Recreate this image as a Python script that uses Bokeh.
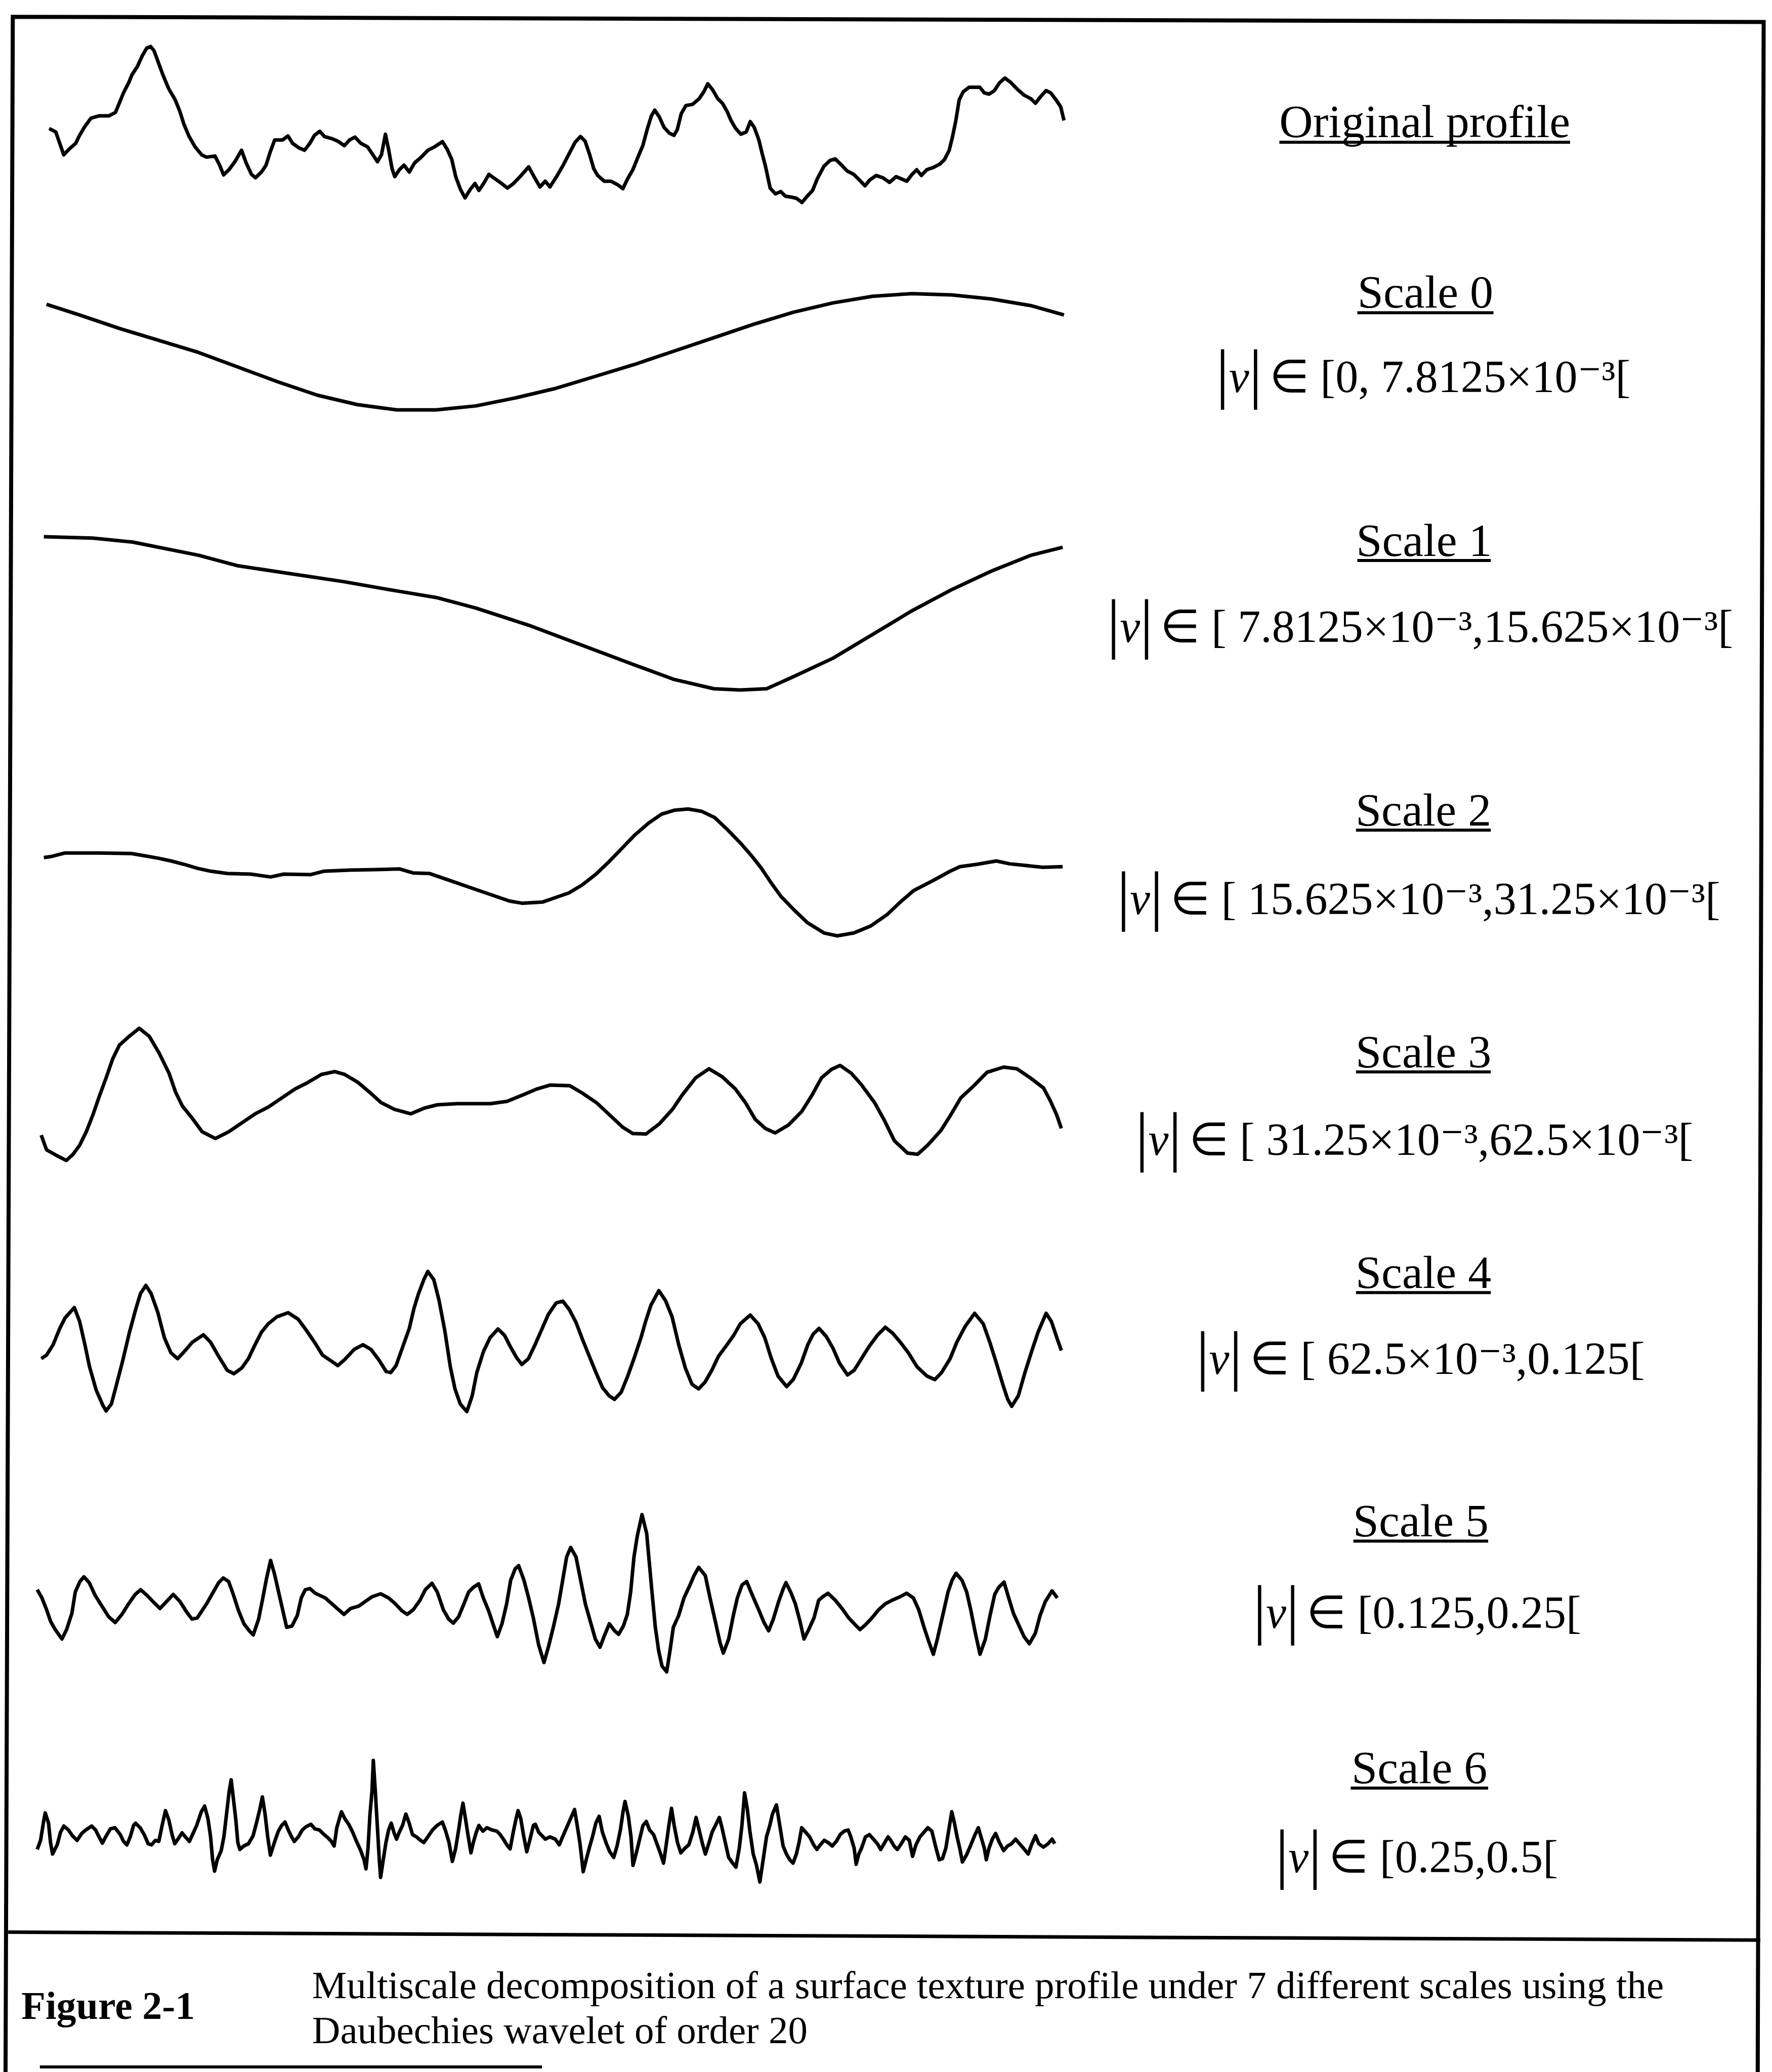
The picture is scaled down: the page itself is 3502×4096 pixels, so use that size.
from bokeh.plotting import figure
from bokeh.models import Range1d
from bokeh.core.properties import value
from bokeh.embed import file_html
from bokeh.resources import INLINE

# ---------------- values ----------------
# horizontal position (arbitrary units) and depth below top (arbitrary units, larger = lower)
profile_x = [25,35,47,55,65,70,78,88,100,115, 125,130,137,145,150,158,165,172,178,183,
             190,197,205,215,222,228,236,245,255,262, 275,282,288,296,305,315,322,330,336,345,
             352,358,365,377,385,392,402,410,418,425, 433,440,452,460,470,478,486,495,505,512,
             520,526,532,537,542,546,553,560,568,576, 586,596,606,618,625,632,638,645,652,660,
             667,673,680,688,695,705,716,725,735,748, 756,765,773,780,790,800,808,818,826,833,
             840,846,852,862,872,882,890,897,905,912, 920,927,933,938,945,952,960,967,972,978,
             985,995,1005,1012,1018,1025,1033,1040,1047,1053, 1060,1068,1076,1082,1088,1095,1100,1105,1112,1120,
             1128,1135,1145,1152,1160,1168,1176,1183,1193,1202, 1210,1218,1228,1238,1245,1255,1262,1272,1282,1292,
             1302,1310,1318,1326,1333,1340,1348,1358,1368,1375, 1382,1387,1392,1397,1403,1412,1428,1435,1442,1450,
             1458,1466,1475,1485,1495,1505,1512,1520,1528,1535, 1543,1550,1555]
profile_d = [830,860,1060,1010,960,900,820,740,720,720, 690,620,520,430,360,290,200,130,115,150,
             260,370,480,580,680,790,900,990,1060,1080, 1070,1150,1235,1190,1120,1020,1130,1230,1260,1210,
             1150,1040,930,930,895,960,1000,1020,960,890, 855,900,920,940,980,930,905,960,990,1050,
             1120,1060,880,1020,1180,1250,1190,1150,1210,1130, 1080,1020,990,945,1010,1100,1250,1360,1435,1360,
             1310,1370,1310,1230,1260,1300,1350,1310,1250,1165, 1250,1340,1290,1340,1250,1150,1060,950,900,940,
             1060,1180,1240,1290,1290,1320,1355,1270,1190,1090, 980,830,720,670,730,820,870,890,840,700,
             630,620,570,510,440,490,570,610,680,760, 830,880,860,770,820,930,1050,1160,1350,1400,
             1380,1420,1430,1440,1475,1420,1370,1270,1160,1110, 1095,1140,1200,1230,1270,1330,1280,1240,1260,1300,
             1250,1270,1290,1230,1190,1240,1190,1170,1140,1100, 1020,900,760,580,510,470,470,520,530,500,
             430,390,430,490,540,570,610,550,500,520, 580,640,760]

scale0_x = [35,60,90,120,150,180,210,240,270,300,330,360,390,420,450,480,510,540,570,600,630,660,690,720,750,780,805]
scale0_d = [230,238,248,257,266,277,288,298,305,309,309,306,300,293,284,275,265,255,245,236,229,224,222,223,226,231,238]

scale1_x = [33,70,100,150,180,220,260,300,330,360,400,440,480,510,540,560,580,600,630,660,690,720,750,780,804]
scale1_d = [406,407,410,420,428,434,440,447,452,460,473,488,503,514,521,522,521,512,498,480,462,446,432,420,414]

scale2_x = [18,30,50,100,150,170,190,210,230,250, 270,295,330,360,380,420,440,480,520,555,
            575,600,620,640,660,680,700,720,740,770, 790,810,830,850,870,890,910,930,950,970,
            990,1010,1030,1050,1070,1085,1100,1115,1130,1150, 1170,1195,1215,1240,1265,1290,1310,1330,1360,1385,
            1400,1425,1455,1475,1500,1525,1555]
scale2_d = [660,650,620,620,625,645,665,690,720,755, 780,800,805,830,805,810,780,770,765,760,
            795,800,840,880,920,960,1000,1040,1060,1050, 1010,970,900,810,700,580,460,360,280,245,
            235,255,310,420,540,640,750,880,1000,1120, 1230,1320,1345,1320,1260,1160,1050,950,860,780,
            740,720,690,715,730,745,740]

scale3_x = [12,20,35,50,60,70,80,90,100,110, 120,130,145,160,175,190,205,215,225,240,
            255,275,295,315,335,355,375,395,415,435, 455,470,490,510,525,545,570,590,610,640,
            690,715,740,760,780,810,830,850,870,890, 905,925,945,965,980,1000,1020,1040,1060,1075,
            1090,1105,1120,1140,1160,1175,1190,1205,1218,1235, 1250,1270,1285,1300,1320,1335,1350,1370,1385,1400,
            1420,1440,1465,1485,1505,1525,1535,1545,1552]
scale3_d = [1130,1260,1310,1355,1300,1220,1100,950,780,620, 450,330,250,180,250,400,580,750,870,980,
            1100,1160,1100,1020,940,880,800,720,660,590, 565,590,660,760,840,900,940,890,860,850,
            850,830,770,720,685,690,760,840,950,1060, 1115,1120,1030,900,770,620,540,610,720,840,
            990,1070,1110,1040,920,780,620,545,510,580, 680,840,1000,1180,1290,1300,1220,1090,950,800,
            690,570,525,540,620,710,820,950,1070]

scale4_x = [12,20,30,40,48,62,70,78,85,95, 105,110,118,125,135,145,155,162,170,178,
            188,198,208,218,228,240,257,268,280,293, 303,315,325,335,345,355,368,385,400,413,
            425,437,450,460,470,485,498,510,522,533, 540,548,558,568,575,582,590,596,605,613,
            622,630,637,645,655,663,670,680,690,702, 712,720,730,738,748,758,768,778,790,800,
            810,820,830,840,850,860,870,878,888,898, 908,918,925,933,945,955,965,975,985,995,
            1005,1015,1025,1035,1048,1058,1068,1083,1095,1105, 1115,1125,1138,1148,1160,1170,1178,1187,1198,1208,
            1218,1230,1240,1250,1262,1275,1287,1298,1310,1322, 1335,1350,1362,1372,1385,1395,1408,1422,1435,1445,
            1455,1465,1472,1478,1488,1498,1508,1518,1530,1538, 1545,1553]
scale4_d = [880,850,760,620,530,440,560,760,950,1150, 1280,1330,1270,1120,900,660,450,320,250,320,
            480,700,830,880,820,740,675,740,860,980, 1010,960,880,760,650,580,520,485,540,640,
            740,850,900,940,890,800,760,800,890,990, 1000,940,780,620,450,320,200,130,200,380,
            650,950,1140,1270,1335,1200,1000,820,700,625, 680,770,870,930,880,760,630,500,400,385,
            460,570,720,860,1000,1130,1200,1230,1170,1030, 870,700,560,420,295,380,520,760,960,1100,
            1140,1080,980,860,760,680,580,505,580,700, 880,1030,1120,1060,920,760,670,620,690,790,
            920,1020,980,890,780,680,610,660,740,830, 950,1030,1060,1000,880,740,600,490,580,740,
            920,1110,1230,1290,1200,1000,820,650,490,560, 680,810]

scale5_x = [18,25,32,38,45,55,62,70,75,82, 88,96,105,115,125,135,145,155,165,173,
            183,193,202,212,222,232,242,250,258,265, 272,282,290,297,305,312,320,328,336,342,
            350,356,362,368,374,380,386,392,400,408, 414,420,427,435,450,462,470,478,488,500,
            510,520,533,545,555,565,573,582,592,600, 610,618,627,635,642,650,658,665,672,680,
            687,695,702,708,715,722,728,735,740,748, 755,762,770,778,785,792,800,806,812,818,
            826,833,840,848,855,862,868,876,884,890, 897,903,908,913,918,925,932,936,940,945,
            950,955,962,967,972,980,988,997,1003,1010, 1020,1027,1035,1042,1047,1055,1062,1068,1075,1082,
            1090,1100,1108,1115,1122,1130,1137,1141,1148,1155, 1162,1168,1175,1183,1190,1196,1204,1215,1225,1235,
            1245,1252,1260,1270,1280,1290,1300,1312,1322,1332, 1340,1348,1355,1362,1368,1376,1384,1390,1396,1405,
            1412,1418,1425,1432,1440,1447,1454,1460,1468,1475, 1482,1490,1498,1506,1515,1522,1530,1540,1548]
scale5_d = [780,850,950,1050,1120,1200,1120,980,800,710, 670,720,830,920,1010,1060,990,900,820,780,
            830,890,940,880,820,880,970,1030,1020,960, 900,800,720,680,710,820,960,1070,1130,1165,
            1030,860,680,530,650,800,950,1100,1090,1000, 850,780,770,810,850,910,950,990,940,920,
            880,840,815,850,900,960,990,950,870,780, 725,800,950,1030,1065,1010,900,800,760,730,
            850,960,1080,1180,1070,900,700,600,575,700, 850,1020,1250,1400,1260,1100,900,700,500,420,
            500,700,900,1060,1200,1270,1180,1070,1130,1160, 1090,990,800,500,320,140,300,550,800,1100,
            1300,1430,1480,1300,1100,1000,850,740,660,590, 660,850,1050,1230,1320,1200,1000,850,740,710,
            820,950,1060,1130,1030,880,770,720,800,900, 1050,1200,1120,1020,870,840,810,870,940,1020,
            1080,1120,1080,1020,950,900,870,840,810,850, 950,1100,1220,1330,1200,1000,800,700,640,700,
            800,950,1150,1330,1200,1000,820,760,715,850, 980,1080,1180,1240,1150,1000,880,790,850]

scale6_x = [15,20,25,27,32,35,38,45,50,55, 62,68,75,82,88,97,103,108,113,118,
            125,132,140,145,150,155,160,163,170,176, 182,187,193,198,203,208,213,218,222,228,
            233,238,244,248,255,262,267,272,276,279, 282,286,292,296,300,304,307,310,314,317,
            320,326,333,340,345,350,354,358,362,366, 372,378,383,388,393,398,402,408,414,420,
            427,433,440,447,453,458,462,466,470,473, 478,484,490,495,502,507,510,513,516,519,
            521,524,527,530,532,536,540,544,548,552, 556,560,565,570,575,580,586,592,597,603,
            610,617,625,630,635,640,645,650,653,656, 660,664,668,672,676,680,686,692,700,707,
            712,718,722,727,732,736,739,743,747,752, 757,762,765,770,775,780,787,795,801,806,
            812,818,824,828,832,835,837,842,847,851, 856,861,866,872,877,883,888,893,897,900,
            905,909,912,917,922,927,932,937,943,948, 953,958,962,966,970,974,979,984,990,996,
            1002,1007,1012,1017,1021,1026,1031,1037,1042,1046, 1051,1056,1062,1067,1072,1076,1080,1084,1088,1093,
            1098,1103,1108,1113,1118,1122,1128,1133,1138,1143, 1148,1153,1158,1162,1166,1172,1178,1184,1189,1194,
            1200,1206,1212,1218,1224,1230,1236,1240,1245,1248, 1252,1256,1262,1268,1274,1280,1285,1290,1296,1300,
            1305,1310,1316,1322,1328,1333,1338,1344,1350,1356, 1362,1367,1373,1378,1383,1388,1392,1396,1400,1404,
            1408,1414,1420,1427,1432,1437,1441,1444,1448,1453, 1458,1463,1470,1476,1482,1488,1494,1500,1507,1512,
            1518,1523,1530,1537,1543,1547]
scale6_d = [910,830,650,590,680,850,950,870,760,705, 740,790,830,770,740,705,740,800,855,800,
            730,720,780,840,870,800,700,680,720,780, 860,870,830,840,700,570,650,780,860,810,
            765,800,840,790,700,580,530,640,800,1000, 1100,1000,920,800,600,400,300,450,650,850,
            910,880,860,790,680,560,450,600,800,960, 850,750,700,670,740,800,840,800,740,710,
            690,730,740,780,810,840,880,720,640,580, 640,690,760,830,920,1000,1080,900,600,400,
            130,400,700,1000,1155,1000,850,740,680,760, 820,760,700,600,680,780,800,830,850,800,
            740,700,670,750,850,1015,900,720,600,505, 650,800,940,840,760,700,750,720,740,750,
            780,830,870,905,750,640,570,640,780,930, 820,700,690,760,790,820,800,820,870,800,
            720,640,560,700,850,1000,1105,990,880,800, 680,620,760,860,930,980,880,740,580,490,
            620,800,1050,940,820,700,665,740,780,860, 940,1030,870,700,550,700,850,940,900,870,
            760,630,750,870,950,860,760,690,630,720, 850,980,1030,1065,900,700,415,550,750,950,
            1050,1195,1000,800,700,600,520,700,880,950, 1000,1030,950,850,720,760,800,870,910,870,
            830,850,880,840,780,750,740,800,900,1040, 950,900,800,780,820,860,910,860,800,830,
            880,910,860,800,830,970,870,800,760,720, 750,870,1000,990,900,720,580,680,800,900,
            1020,960,880,780,720,820,900,1000,900,820, 770,840,920,880,860,820,860,900,950,870,
            790,860,890,860,820,860]

labels = ["Original profile", "Scale 0", "Scale 1", "Scale 2", "Scale 3", "Scale 4", "Scale 5", "Scale 6"]
ranges_text = ["\u2208 [0, 7.8125\u00d710\u207b\u00b3[",
               "\u2208 [ 7.8125\u00d710\u207b\u00b3,15.625\u00d710\u207b\u00b3[",
               "\u2208 [ 15.625\u00d710\u207b\u00b3,31.25\u00d710\u207b\u00b3[",
               "\u2208 [ 31.25\u00d710\u207b\u00b3,62.5\u00d710\u207b\u00b3[",
               "\u2208 [ 62.5\u00d710\u207b\u00b3,0.125[",
               "\u2208 [0.125,0.25[",
               "\u2208 [0.25,0.5["]
caption_tag = "Figure 2-1"
caption_lines = ["Multiscale decomposition of a surface texture profile under 7 different scales using the",
                 "Daubechies wavelet of order 20"]

# ---------------- layout (reference units: 1341 x 1568) ----------------
LWU, LHU = 1341.0, 1568.0
PW, PH = 3502, 4096

p = figure(width=PW, height=PH, x_range=Range1d(0, LWU), y_range=Range1d(LHU, 0),
           output_backend="svg", toolbar_location=None,
           x_axis_location=None, y_axis_location=None, min_border=0)
p.grid.visible = False
p.outline_line_color = None
p.background_fill_color = "white"
p.border_fill_color = "white"

traces = [
    ("profile", profile_x, profile_d, (37, 805), (35, 153)),
    ("s0", scale0_x, scale0_d, (35, 805), (222, 310)),
    ("s1", scale1_x, scale1_d, (33, 804), (406, 522)),
    ("s2", scale2_x, scale2_d, (33, 804), (612, 708)),
    ("s3", scale3_x, scale3_d, (31, 803), (778, 878)),
    ("s4", scale4_x, scale4_d, (31, 803), (962, 1068)),
    ("s5", scale5_x, scale5_d, (28, 800), (1146, 1265)),
    ("s6", scale6_x, scale6_d, (28, 798), (1332, 1424)),
]
xr, yr = {}, {}
for name, xs, ds, (La, Lb), (Ta, Tb) in traces:
    xa, xb = min(xs), max(xs)
    da, db = min(ds), max(ds)
    kx = (xb - xa) / (Lb - La)
    ky = (db - da) / (Tb - Ta)
    xr[name] = Range1d(xa - La * kx, xa + (LWU - La) * kx)
    yr[name] = Range1d(da + (LHU - Ta) * ky, da - Ta * ky)
p.extra_x_ranges = xr
p.extra_y_ranges = yr
for name, xs, ds, _, _ in traces:
    p.line(xs, ds, x_range_name=name, y_range_name=name, line_color="black",
           line_width=7, line_join="round")

SERIF = value("Liberation Serif")

# scale labels (underlined); text anchor sits about 0.33 em above the drawn baseline
label_cx = [1078, 1078.5, 1077.5, 1077, 1077, 1077, 1075, 1074]
label_y = [91.5, 220.5, 408.5, 612.5, 795.5, 962.5, 1150.5, 1337.5]
label_ul = [107.5, 236.5, 424, 628, 811, 978, 1166, 1353]
label_w = [220, 103, 101, 102, 102, 102, 102, 104]
p.text(x=label_cx, y=label_y, text=labels, text_font=SERIF, text_font_size="92px",
       text_align="center", text_baseline="alphabetic", text_color="black")
p.segment(x0=[c - w / 2 for c, w in zip(label_cx, label_w)], y0=label_ul,
          x1=[c + w / 2 for c, w in zip(label_cx, label_w)], y1=label_ul,
          line_color="black", line_width=6)

# frequency ranges |v| in [...]
bar1_x = [925, 842.5, 850, 864, 910, 953, 970]
f_y = [285, 474, 680, 862, 1028, 1220, 1405]
bar_y = [f - 2.7 for f in f_y]
bars_x = bar1_x + [b + 25 for b in bar1_x]
p.text(x=bars_x, y=bar_y + bar_y, text=["|"] * 14, text_font=SERIF, text_font_size="131px",
       text_align="center", text_baseline="middle", text_color="black")
p.text(x=[b + 12.5 for b in bar1_x], y=f_y, text=["v"] * 7, text_font=SERIF,
       text_font_style="italic", text_font_size="90px", text_align="center",
       text_baseline="alphabetic", text_color="black")
p.text(x=[b + 35.5 for b in bar1_x], y=f_y, text=ranges_text, text_font=SERIF,
       text_font_size="90px", text_align="left", text_baseline="alphabetic", text_color="black")

# caption
p.text(x=[16], y=[1517.5], text=[caption_tag], text_font=SERIF, text_font_style="bold",
       text_font_size="78px", text_align="left", text_baseline="alphabetic", text_color="black")
p.text(x=[236, 236], y=[1502, 1536], text=caption_lines, text_font=SERIF,
       text_font_size="77px", text_align="left", text_baseline="alphabetic", text_color="black")

# frame lines of the scanned figure
p.line([4, 9.5, 1334.5, 1330], [1568, 12.5, 16.5, 1568], line_color="black", line_width=8,
       line_join="miter")
p.line([6, 1332], [1462, 1468], line_color="black", line_width=7)
p.line([30, 410], [1564, 1564], line_color="black", line_width=6)

open("out.html", "w").write(file_html(p, INLINE))
